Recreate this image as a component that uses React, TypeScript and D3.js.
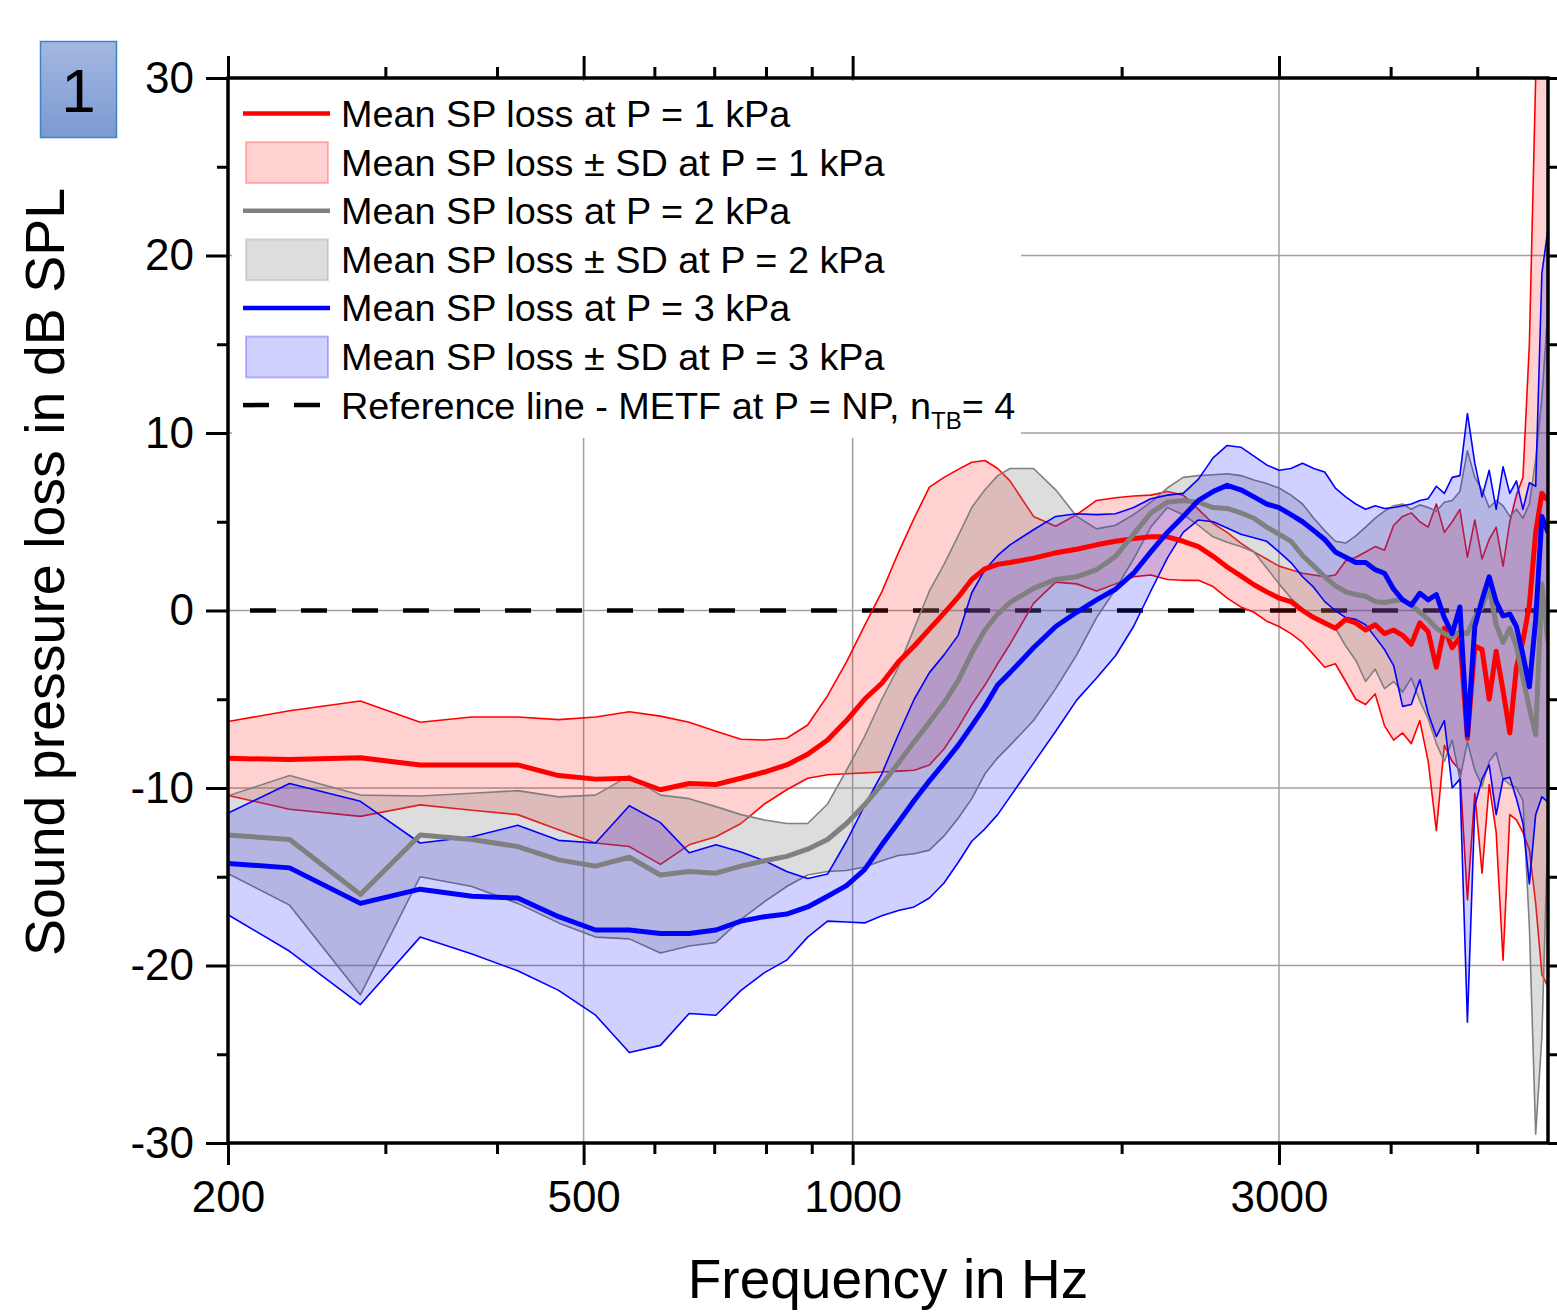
import { useEffect, useRef } from "react";
import * as d3 from "d3";

// FFT bin centres (46.875 Hz spacing): every bin up to 1.5 kHz, then every 2nd bin
const freqHz = [
  187.5, 234.4, 281.3, 328.1, 375, 421.9, 468.8, 515.6, 562.5, 609.4,
  656.3, 703.1, 750, 796.9, 843.8, 890.6, 937.5,
  984.4, 1031.3, 1078.1, 1125, 1171.9, 1218.8, 1265.6, 1312.5, 1359.4, 1406.3, 1453.1, 1500,
  1593.8, 1687.5, 1781.3, 1875, 1968.8, 2062.5, 2156.3, 2250, 2343.8, 2437.5, 2531.3, 2625, 2718.8, 2812.5, 2906.3, 3000,
  3093.8, 3187.5, 3281.3, 3375, 3468.8, 3562.5, 3656.3, 3750, 3843.8, 3937.5, 4031.3, 4125, 4218.8, 4312.5, 4406.3,
  4500, 4593.8, 4687.5, 4781.3, 4875, 4968.8, 5062.5, 5156.3, 5250, 5343.8, 5437.5, 5531.3, 5625, 5718.8, 5812.5, 5906.3, 6000,
];

// P = 1 kPa
const meanP1 = [
  -8.3, -8.4, -8.3, -8.7, -8.7, -8.7, -9.3, -9.5, -9.45, -10.1,
  -9.75, -9.8, -9.45, -9.1, -8.7, -8.1, -7.3,
  -6.2, -5.0, -4.1, -2.9, -2.0, -1.05, -0.15, 0.75, 1.75, 2.35, 2.6, 2.7,
  2.95, 3.25, 3.45, 3.7, 3.9, 4.05, 4.15, 4.15, 3.9, 3.6, 3.05, 2.45, 1.95, 1.45, 1.05, 0.7,
  0.5, 0.0, -0.4, -0.7, -1.0, -0.5, -0.7, -1.1, -0.8, -1.3, -1.1, -1.4, -1.9, -0.7, -1.2,
  -3.2, -1.0, -2.1, -1.5, -7.2, -2.0, -2.2, -5.0, -2.3, -4.5, -6.9, -3.2, -1.7, 0.3, 4.4, 6.6, 6.2,
];
const upperP1 = [
  -6.5, -5.65, -5.1, -6.3, -6.0, -6.0, -6.15, -6.0, -5.7, -5.95,
  -6.3, -6.8, -7.25, -7.3, -7.2, -6.45, -4.8,
  -2.9, -0.85, 1.05, 3.25, 5.2, 6.95, 7.5, 7.95, 8.35, 8.45, 8.0, 7.3,
  5.3, 4.75, 5.4, 6.2, 6.35, 6.45, 6.5, 6.7, 6.5, 5.7, 4.9, 4.4, 3.8, 3.3, 2.9, 2.5,
  2.3, 2.1, 2.0, 1.9, 2.0, 2.8, 3.0, 3.3, 3.6, 3.4, 4.8, 5.3, 5.5, 5.0, 4.7,
  6.0, 4.4, 5.0, 5.7, 3.0, 5.1, 2.9, 4.0, 4.7, 2.5, 5.0, 6.5, 7.5, 15, 30, 33, 32,
];
const lowerP1 = [
  -10.1, -11.2, -11.6, -10.95, -11.25, -11.5, -12.35, -13.1, -13.3, -14.3,
  -13.2, -12.75, -12.0, -10.9, -10.1, -9.45, -9.25,
  -9.2, -9.15, -9.1, -9.05, -9.0, -8.7, -7.8, -6.6, -5.3, -4.2, -3.0, -1.9,
  0.4, 1.6, 1.5, 1.1, 1.5, 1.9, 2.0, 1.75, 1.7, 1.7, 1.35, 0.7, 0.2, -0.1, -0.6, -0.9,
  -1.3, -1.8, -2.5, -3.2, -3.0, -4.0, -5.0, -5.3, -4.7, -6.5, -7.3, -6.9, -7.5, -6.2, -8.5,
  -12.4, -7.6, -8.5, -9.0, -16.3, -10.3, -14.8, -9.8, -12.5, -19.7, -11.5, -11.8, -12.5, -13.5, -16.5, -20.5, -21.2,
];

// P = 2 kPa
const meanP2 = [
  -12.55, -12.9, -16.0, -12.65, -12.9, -13.3, -14.05, -14.4, -13.9, -14.9,
  -14.7, -14.8, -14.4, -14.1, -13.85, -13.45, -12.9,
  -12.0, -10.95, -9.8, -8.6, -7.4, -6.3, -5.2, -3.95, -2.4, -1.1, -0.2, 0.45,
  1.25, 1.75, 1.9, 2.3, 3.05, 4.3, 5.5, 6.1, 6.2, 6.1, 5.8, 5.75, 5.5, 5.2, 4.7, 4.3,
  3.9, 3.1, 2.5, 1.9, 1.4, 1.05, 0.9, 0.8, 0.5, 0.45, 0.55, 0.6, 0.3, -0.1, -0.5,
  -1.0, -1.3, -1.5, -1.2, -1.3, -0.4, 0.2, 1.3, -0.8, -1.8, -1.0, -2.0, -3.8, -5.5, -7.0, 1.5, -1.8,
];
const upperP2 = [
  -10.9, -9.3, -10.4, -10.45, -10.3, -10.15, -10.5, -10.4, -9.3, -10.4,
  -10.6, -11.05, -11.5, -11.8, -12.0, -12.0, -10.9,
  -9.0, -7.1, -5.0, -3.2, -1.0, 1.1, 2.6, 4.2, 5.8, 6.8, 7.6, 8.0,
  8.0, 6.8, 5.3, 4.6, 4.8, 5.4, 6.1, 6.9, 7.5, 7.6, 7.65, 7.7, 7.6, 7.35, 7.15, 6.9,
  6.5, 6.0, 5.2, 4.5, 3.9, 3.8, 4.2, 4.7, 5.2, 5.6, 5.9, 6.0, 5.7, 5.95, 5.8,
  5.6, 6.1, 6.2, 6.7, 9.0, 7.5, 6.8, 5.8, 6.2, 5.9, 5.3, 5.7, 5.2, 6.0, 8.5, 12.0, 17.0,
];
const lowerP2 = [
  -14.1, -16.6, -21.65, -15.0, -15.55, -16.5, -17.6, -18.4, -18.5, -19.3,
  -18.9, -18.7, -17.4, -16.4, -15.55, -14.9, -14.7,
  -14.65, -14.45, -14.1, -13.8, -13.7, -13.5, -12.7, -11.7, -10.6, -9.2, -8.3, -7.6,
  -6.2, -4.4, -2.5, -0.4, 1.2, 2.9, 4.7, 5.8, 5.4, 4.8, 4.15, 3.85, 3.6, 3.3, 2.4, 1.5,
  0.7, 0.1, -0.4, -0.8, -1.0, -2.0, -2.8, -4.0, -3.3, -4.4, -4.0, -4.6, -3.8, -5.1, -6.1,
  -7.5, -8.5, -7.3, -9.5, -7.4, -9.0, -9.9, -8.5, -8.0, -9.5, -9.8, -10.0, -10.7, -17.8, -29.5, -24.0, -12.0,
];

// P = 3 kPa
const meanP3 = [
  -14.15, -14.5, -16.5, -15.7, -16.1, -16.2, -17.25, -18.0, -18.0, -18.2,
  -18.2, -18.0, -17.5, -17.25, -17.1, -16.7, -16.1,
  -15.5, -14.6, -13.2, -11.95, -10.7, -9.6, -8.6, -7.6, -6.5, -5.4, -4.2, -3.5,
  -2.1, -0.9, -0.1, 0.6, 1.2, 2.1, 3.3, 4.4, 5.3, 6.2, 6.7, 7.05, 6.8, 6.4, 6.0, 5.8,
  5.4, 5.0, 4.5, 4.0, 3.3, 3.0, 2.7, 2.7, 2.3, 2.1, 1.2, 0.6, 0.3, 0.97, 0.6,
  0.9, -0.4, -1.3, 0.2, -7.0, -0.9, 0.6, 1.9, 0.5, -0.3, -0.2, -0.9, -2.5, -4.3, -0.5, 5.3, 4.4,
];
const upperP3 = [
  -12.1, -9.75, -10.75, -13.1, -12.75, -12.1, -12.95, -13.1, -11.0, -11.95,
  -13.65, -13.2, -13.6, -14.1, -14.7, -15.1, -14.85,
  -13.0, -11.0, -9.2, -7.0, -5.0, -3.5, -2.5, -1.4, 1.0, 2.3, 3.1, 3.7,
  4.55, 5.3, 5.45, 5.4, 5.45, 5.8, 6.3, 6.5, 6.6, 7.4, 8.6, 9.3, 9.2, 8.7, 8.2, 7.9,
  8.0, 8.3, 8.0, 7.8, 6.9, 6.4, 6.0, 5.7, 5.9, 5.75, 5.8, 5.9, 6.0, 6.2, 6.3,
  7.0, 6.6, 7.5, 7.6, 11.1, 8.3, 6.4, 7.9, 5.7, 8.1, 6.6, 7.3, 5.7, 7.2, 7.0, 19.0, 21.5,
];
const lowerP3 = [
  -16.3, -19.2, -22.2, -18.4, -19.35, -20.3, -21.4, -22.8, -24.9, -24.5,
  -22.7, -22.8, -21.4, -20.4, -19.7, -18.4, -17.5,
  -17.55, -17.6, -17.2, -16.9, -16.7, -16.2, -15.35, -14.2, -13.0, -12.3, -11.5, -10.5,
  -8.6, -6.8, -5.05, -3.8, -2.55, -0.9, 1.1, 2.95, 4.4, 5.1, 5.0, 4.65, 4.3, 4.1, 3.9, 3.3,
  2.7, 1.9, 1.3, 0.5, 0.0, -0.4, -0.5, -0.8, -1.5, -2.2, -3.1, -5.4, -5.3, -3.9, -5.8,
  -7.1, -6.2, -10.0, -9.5, -23.2, -11.0, -9.5, -8.7, -11.5, -9.5, -9.4, -10.6, -12.0, -15.4, -11.5, -10.5, -10.8,
];

const referenceLevel = 0;

const xTicksMajor = [200, 500, 1000, 3000];
const xTicksMinor = [300, 400, 600, 700, 800, 900, 2000, 4000, 5000];
const yTicksMajor = [-30, -20, -10, 0, 10, 20, 30];
const yTicksMinor = [-25, -15, -5, 5, 15, 25];
const gridFreqs = [500, 1000, 3000];
const gridLevels = [-20, -10, 0, 10, 20];

const legendLabels = [
  "Mean SP loss at P = 1 kPa",
  "Mean SP loss \u00b1 SD at P = 1 kPa",
  "Mean SP loss at P = 2 kPa",
  "Mean SP loss \u00b1 SD at P = 2 kPa",
  "Mean SP loss at P = 3 kPa",
  "Mean SP loss \u00b1 SD at P = 3 kPa",
];
const legendRefParts = ["Reference line - METF at P = NP, n", "TB", "= 4"];

const FONT = "'Liberation Sans', Arial, sans-serif";

const App = () => {
  const svgRef = useRef(null);

  useEffect(() => {
    const svg = d3.select(svgRef.current);
    svg.selectAll("*").remove();

    const x = d3.scaleLog().domain([200, 6000]).range([228, 1548]);
    const y = d3.scaleLinear().domain([-30, 30]).range([1143, 78]);

    const series = [
      { mean: meanP1, upper: upperP1, lower: lowerP1, color: "#ff0000", fillOpacity: 0.18 },
      { mean: meanP2, upper: upperP2, lower: lowerP2, color: "#808080", fillOpacity: 0.27 },
      { mean: meanP3, upper: upperP3, lower: lowerP3, color: "#0000ff", fillOpacity: 0.18 },
    ];

    const defs = svg.append("defs");
    defs
      .append("clipPath")
      .attr("id", "plot-clip")
      .append("rect")
      .attr("x", x(200))
      .attr("y", y(30))
      .attr("width", x(6000) - x(200))
      .attr("height", y(-30) - y(30));
    const grad = defs
      .append("linearGradient")
      .attr("id", "badge-fill")
      .attr("x1", 0)
      .attr("y1", 0)
      .attr("x2", 0)
      .attr("y2", 1);
    grad.append("stop").attr("offset", "0%").attr("stop-color", "#a3b8e0");
    grad.append("stop").attr("offset", "100%").attr("stop-color", "#7b9ad3");

    // grid
    const grid = svg.append("g").attr("stroke", "#a0a0a0").attr("stroke-width", 1.5);
    gridFreqs.forEach((f) => {
      grid.append("line").attr("x1", x(f)).attr("x2", x(f)).attr("y1", y(30)).attr("y2", y(-30));
    });
    gridLevels.forEach((v) => {
      grid.append("line").attr("x1", x(200)).attr("x2", x(6000)).attr("y1", y(v)).attr("y2", y(v));
    });

    const plot = svg.append("g").attr("clip-path", "url(#plot-clip)");

    // reference line sits under the SD bands
    plot
      .append("line")
      .attr("x1", x(200))
      .attr("x2", x(6000))
      .attr("y1", y(referenceLevel))
      .attr("y2", y(referenceLevel))
      .attr("stroke", "#000")
      .attr("stroke-width", 4.5)
      .attr("stroke-dasharray", "26 25")
      .attr("stroke-dashoffset", 29);

    const edge = d3
      .line<number>()
      .x((d, i) => x(freqHz[i]))
      .y((d) => y(d));

    // SD bands: fill plus thin edges, later bands tint earlier ones
    series.forEach((s) => {
      const area = d3
        .area<number>()
        .x((d, i) => x(freqHz[i]))
        .y0((d, i) => y(s.lower[i]))
        .y1((d, i) => y(s.upper[i]));
      plot
        .append("path")
        .datum(s.mean)
        .attr("d", area)
        .attr("fill", s.color)
        .attr("fill-opacity", s.fillOpacity);
      [s.upper, s.lower].forEach((vals) => {
        plot
          .append("path")
          .datum(vals)
          .attr("d", edge)
          .attr("fill", "none")
          .attr("stroke", s.color)
          .attr("stroke-width", 1.6)
          .attr("stroke-linejoin", "round");
      });
    });

    series.forEach((s) => {
      plot
        .append("path")
        .datum(s.mean)
        .attr("d", edge)
        .attr("fill", "none")
        .attr("stroke", s.color)
        .attr("stroke-width", 5)
        .attr("stroke-linejoin", "round");
    });

    // axes
    const styleAxis = (g) => {
      g.select(".domain").remove();
      g.selectAll(".tick line").attr("stroke", "#000").attr("stroke-width", 3);
      g.selectAll("text")
        .attr("fill", "#000")
        .style("font-family", FONT)
        .style("font-size", "44px");
    };
    const noLabel = () => "";

    svg
      .append("g")
      .attr("transform", `translate(${x(200)},0)`)
      .call(d3.axisLeft(y).tickValues(yTicksMajor).tickSize(22).tickPadding(12).tickFormat((d) => String(d)))
      .call(styleAxis);
    svg
      .append("g")
      .attr("transform", `translate(${x(200)},0)`)
      .call(d3.axisLeft(y).tickValues(yTicksMinor).tickSize(11).tickFormat(noLabel))
      .call(styleAxis);
    svg
      .append("g")
      .attr("transform", `translate(${x(6000)},0)`)
      .call(d3.axisRight(y).tickValues(yTicksMajor).tickSize(22).tickFormat(noLabel))
      .call(styleAxis);
    svg
      .append("g")
      .attr("transform", `translate(${x(6000)},0)`)
      .call(d3.axisRight(y).tickValues(yTicksMinor).tickSize(11).tickFormat(noLabel))
      .call(styleAxis);
    svg
      .append("g")
      .attr("transform", `translate(0,${y(-30)})`)
      .call(d3.axisBottom(x).tickValues(xTicksMajor).tickSize(22).tickPadding(16).tickFormat((d) => String(d)))
      .call(styleAxis);
    svg
      .append("g")
      .attr("transform", `translate(0,${y(-30)})`)
      .call(d3.axisBottom(x).tickValues(xTicksMinor).tickSize(11).tickFormat(noLabel))
      .call(styleAxis);
    svg
      .append("g")
      .attr("transform", `translate(0,${y(30)})`)
      .call(d3.axisTop(x).tickValues(xTicksMajor).tickSize(22).tickFormat(noLabel))
      .call(styleAxis);
    svg
      .append("g")
      .attr("transform", `translate(0,${y(30)})`)
      .call(d3.axisTop(x).tickValues(xTicksMinor).tickSize(11).tickFormat(noLabel))
      .call(styleAxis);

    svg
      .append("rect")
      .attr("x", x(200))
      .attr("y", y(30))
      .attr("width", x(6000) - x(200))
      .attr("height", y(-30) - y(30))
      .attr("fill", "none")
      .attr("stroke", "#000")
      .attr("stroke-width", 3.5);

    // axis titles
    svg
      .append("text")
      .attr("x", 888)
      .attr("y", 1298)
      .attr("text-anchor", "middle")
      .style("font-family", FONT)
      .style("font-size", "55px")
      .text("Frequency in Hz");
    svg
      .append("text")
      .attr("transform", "translate(64,572) rotate(-90)")
      .attr("text-anchor", "middle")
      .style("font-family", FONT)
      .style("font-size", "55.5px")
      .text("Sound pressure loss in dB SPL");

    // badge
    svg
      .append("rect")
      .attr("x", 40.5)
      .attr("y", 41.5)
      .attr("width", 76)
      .attr("height", 96)
      .attr("fill", "url(#badge-fill)")
      .attr("stroke", "#3f83c9")
      .attr("stroke-width", 1.5);
    svg
      .append("text")
      .attr("x", 78.5)
      .attr("y", 112)
      .attr("text-anchor", "middle")
      .style("font-family", FONT)
      .style("font-size", "62px")
      .text("1");

    // legend
    const legend = svg.append("g");
    legend
      .append("rect")
      .attr("x", 232)
      .attr("y", 81)
      .attr("width", 789)
      .attr("height", 357)
      .attr("fill", "#fff");
    const rowY = (i) => 113.5 + i * 48.6;
    legendLabels.forEach((label, i) => {
      const s = series[Math.floor(i / 2)];
      const cy = rowY(i);
      if (i % 2 === 0) {
        legend
          .append("line")
          .attr("x1", 243)
          .attr("x2", 330)
          .attr("y1", cy)
          .attr("y2", cy)
          .attr("stroke", s.color)
          .attr("stroke-width", 4.5);
      } else {
        legend
          .append("rect")
          .attr("x", 246)
          .attr("y", cy - 20)
          .attr("width", 82)
          .attr("height", 41)
          .attr("fill", s.color)
          .attr("fill-opacity", s.fillOpacity)
          .attr("stroke", s.color)
          .attr("stroke-opacity", 0.25)
          .attr("stroke-width", 2);
      }
      legend
        .append("text")
        .attr("x", 341)
        .attr("y", cy + 13.5)
        .style("font-family", FONT)
        .style("font-size", "37.8px")
        .text(label);
    });
    const refY = rowY(6);
    legend
      .append("line")
      .attr("x1", 243)
      .attr("x2", 320)
      .attr("y1", refY)
      .attr("y2", refY)
      .attr("stroke", "#000")
      .attr("stroke-width", 4.5)
      .attr("stroke-dasharray", "26 25");
    const refText = legend
      .append("text")
      .attr("x", 341)
      .attr("y", refY + 13.5)
      .style("font-family", FONT)
      .style("font-size", "37.8px");
    refText.append("tspan").text(legendRefParts[0]);
    refText
      .append("tspan")
      .attr("dy", 10)
      .style("font-size", "24px")
      .text(legendRefParts[1]);
    refText.append("tspan").attr("dy", -10).text(legendRefParts[2]);
  }, []);

  return (
    <svg
      ref={svgRef}
      width={1557}
      height={1313}
      style={{ position: "absolute", left: 0, top: 0, background: "#fff" }}
    />
  );
};

export default App;
